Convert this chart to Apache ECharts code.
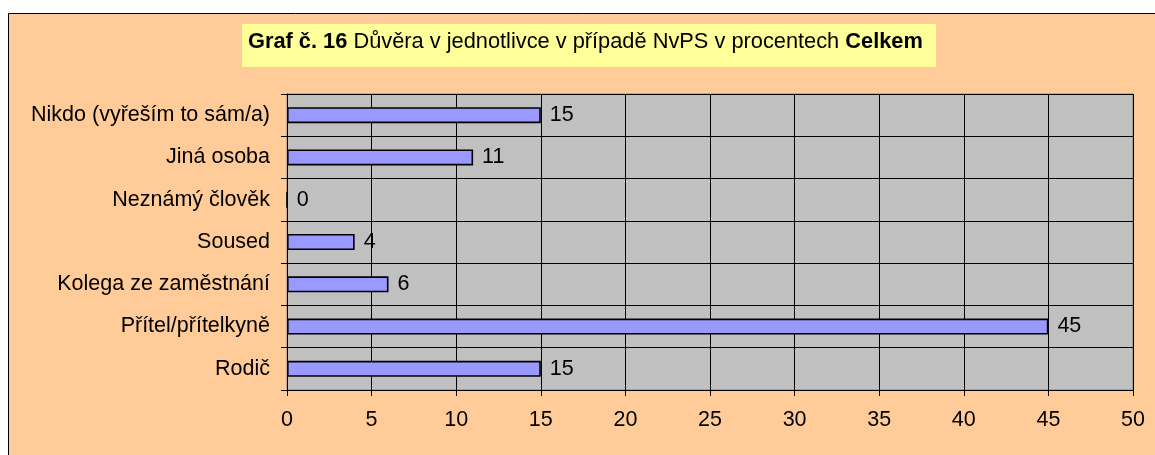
<!DOCTYPE html>
<html><head><meta charset="utf-8">
<script src="https://cdn.jsdelivr.net/npm/echarts@6/dist/echarts.min.js"></script>
<style>html,body{margin:0;padding:0;background:#fff}#c{width:1155px;height:455px}</style>
</head><body><div id="c"></div>
<script>
var categories = ['Rodič','Přítel/přítelkyně','Kolega ze zaměstnání','Soused','Neznámý člověk','Jiná osoba','Nikdo (vyřeším to sám/a)'];
var values = [15,45,6,4,0,11,15];
var xTicks = {min:0, max:50, interval:5};
var FONT = '"Liberation Sans", Arial, sans-serif';
var FS = 21.5;
var chart = echarts.init(document.getElementById('c'));
chart.setOption({
  backgroundColor:'#ffffff',
  animation:false,
  graphic:[
    {type:'rect', left:8, top:13, z:-10, shape:{width:1200,height:500}, style:{fill:'#FFCC99', stroke:'#000', lineWidth:1}},
    {type:'rect', left:242, top:24, z:-5, shape:{width:694,height:43}, style:{fill:'#FFFF99'}},
    {type:'text', left:248, top:31, z:5, style:{
      text:'{b|Graf č. 16} Důvěra v jednotlivce v případě NvPS v procentech {c|Celkem}',
      font:'21.8px '+FONT, fill:'#000',
      rich:{b:{fontWeight:'bold', fontSize:21.8, fontFamily:FONT}, c:{fontWeight:'bold', fontSize:21.8, fontFamily:FONT}}
    }}
  ],
  grid:{left:287, right:22, top:94, bottom:65, show:true, backgroundColor:'#C0C0C0', borderColor:'#808080', borderWidth:1},
  xAxis:{type:'value', min:xTicks.min, max:xTicks.max, interval:xTicks.interval,
    axisLine:{show:true, lineStyle:{color:'#000'}},
    axisTick:{show:true, length:6, lineStyle:{color:'#000'}},
    splitLine:{show:true, lineStyle:{color:'#000', width:1}},
    axisLabel:{color:'#000', fontSize:FS, fontFamily:FONT, margin:19}
  },
  yAxis:{type:'category', data:categories,
    axisLine:{show:true, lineStyle:{color:'#000'}},
    axisTick:{show:true, length:6, lineStyle:{color:'#000'}},
    splitLine:{show:true, lineStyle:{color:'#000', width:1}},
    axisLabel:{color:'#000', fontSize:FS, fontFamily:FONT, margin:17}
  },
  series:[{type:'bar', data:values, barWidth:16,
    itemStyle:{color:'#9999FF', borderColor:'#000', borderWidth:1.6},
    label:{show:true, position:'right', distance:9, color:'#000', fontSize:FS, fontFamily:FONT}
  }]
});
</script></body></html>
